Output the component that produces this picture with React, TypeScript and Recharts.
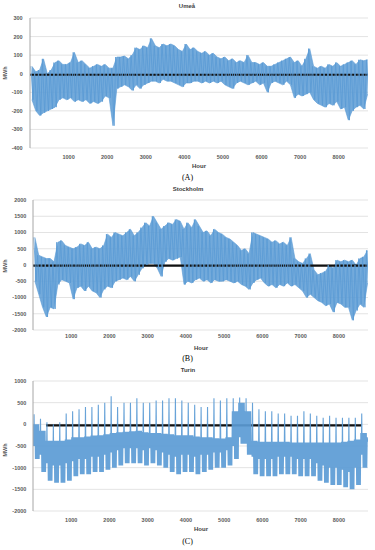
import React from 'react';
import { ComposedChart, Line, Area, XAxis, YAxis, CartesianGrid } from 'recharts';

const YEAR_HOURS = 8760;
const BIN_HOURS = 100;
const HOUR_TICKS = [1000, 2000, 3000, 4000, 5000, 6000, 7000, 8000];

// Umeå (100-hour bins: upper and lower envelope)
const UMEA_TICKS = [-400, -300, -200, -100, 0, 100, 200, 300];
const UMEA_HI = [
  40, 10, 20, 80, 0, 20, 60, 70, 50, 50,
  60, 115, 60, 70, 50, 30, 40, 50, 40, 50,
  30, 30, 90, 90, 95, 80, 100, 140, 130, 150,
  140, 190, 150, 140, 160, 150, 160, 150, 130, 120,
  160, 130, 140, 120, 110, 120, 100, 110, 90, 80,
  90, 70, 80, 60, 70, 60, 100, 60, 60, 50,
  60, 40, 40, 50, 60, 70, 80, 90, 60, 70,
  40, 80, 135, 40, 30, 40, 30, 50, 40, 60,
  40, 50, 60, 70, 50, 75, 70, 75,
];
const UMEA_LO = [
  -140, -200, -225, -210, -200, -190, -180, -140, -130, -140,
  -130, -150, -140, -150, -140, -160, -150, -160, -150, -120,
  -130, -280, -80, -70, -60, -70, -90, -60, -80, -60,
  -50, -40, -40, -50, -30, -40, -40, -50, -60, -70,
  -50, -50, -40, -40, -50, -40, -50, -40, -50, -40,
  -60, -70, -80, -50, -40, -50, -60, -50, -40, -60,
  -50, -100, -50, -40, -50, -60, -40, -60, -130, -110,
  -120, -110, -100, -140, -160, -170, -180, -160, -170, -150,
  -190, -180, -250, -200, -180, -170, -190, -110,
];
const UMEA_BASE = { value: -5, from: 0, to: 8760 };

// Stockholm (100-hour bins)
const STHLM_TICKS = [-2000, -1500, -1000, -500, 0, 500, 1000, 1500, 2000];
const STHLM_HI = [
  850, 300, 250, 200, 200, 100, 700, 750, 600, 550,
  500, 550, 650, 600, 700, 500, 550, 500, 600, 950,
  850, 1000, 950, 900, 1000, 1100, 900, 1000, 1150, 1300,
  1200, 1500, 1300, 1100, 1200, 1300, 1250, 1400, 1350, 1100,
  1300, 1150, 1400, 1200, 1000, 1050, 900, 1100, 1000, 950,
  850, 800, 700, 600, 450, 500, 350, 1000, 950, 900,
  850, 800, 700, 750, 650, 700, 600, 850, 200, 100,
  50, 200, 350, -150, -300, -250, -200, 0, -100, 150,
  100, 150, 100, 150, 0, 200, 250, 450,
];
const STHLM_LO = [
  -500, -900, -1300, -1600, -1300, -1350, -600, -450, -500, -550,
  -1050, -700, -650, -800, -650, -800, -850, -1000, -750, -650,
  -700, -500, -450, -400, -450, -350, -500, -300, -100, 0,
  50, 50, -100, -350, 100, 200, 150, 200, 250, -600,
  -500, -550, -450, -400, -500, -450, -550, -450, -500, -500,
  -450, -500, -550, -500, -600, -650, -750, -550, -450, -400,
  -550, -650, -600, -700, -600, -650, -550, -650, -600, -700,
  -800, -1000, -900, -1000, -1100, -1150, -1250, -1200, -1450, -1150,
  -1200, -1300, -1300, -1700, -1400, -1200, -1300, -550,
];
const STHLM_BASE = { value: -20, from: 0, to: 8740 };

// Turin (weekly: weekend spike peak, weekday band top, weekday bottom, weekend bottom)
const TURIN_TICKS = [-2000, -1500, -1000, -500, 0, 500, 1000];
const TURIN_PEAK = [
  230, 130, 50, 0, 50, 250, 300, 350, 400, 400,
  450, 500, 650, 400, 500, 500, 600, 500, 500, 550,
  550, 600, 600, 550, 500, 450, 400, 400, 600, 550,
  600, 600, 620, 600, 500, 350, 300, 300, 250, 250,
  200, 200, 300, 250, 200, 150, 200, 150, 150, 150,
  150, 250, 150,
];
const TURIN_TOP = [
  0, -150, -380, -380, -380, -350, -300, -300, -280, -260,
  -250, -230, -200, -180, -170, -160, -150, -180, -200, -200,
  -220, -230, -250, -250, -250, -280, -300, -300, -320, -330,
  -300, 300, 500, 300, -380, -400, -400, -400, -400, -400,
  -420, -420, -420, -420, -420, -420, -420, -420, -400, -380,
  -350, -200, -300,
];
const TURIN_BOTTOM = [
  -800, -1100, -1300, -1350, -1350, -1300, -1200, -1150, -1150, -1100,
  -1100, -1050, -1000, -950, -900, -900, -900, -950, -900, -950,
  -1000, -1100, -1150, -1100, -1100, -1150, -1100, -1050, -1000, -1000,
  -950, -800, -450, -700, -1150, -1200, -1200, -1200, -1150, -1150,
  -1150, -1200, -1200, -1200, -1300, -1350, -1400, -1400, -1450, -1500,
  -1400, -1000, -600,
];
const TURIN_WKND_LOW = [
  -500, -700, -900, -950, -950, -900, -850, -800, -800, -750,
  -750, -700, -650, -600, -550, -550, -550, -600, -550, -600,
  -650, -700, -750, -700, -700, -750, -700, -700, -650, -650,
  -600, -500, -300, -450, -750, -800, -800, -800, -750, -750,
  -750, -800, -800, -800, -900, -950, -1000, -1000, -1050, -1100,
  -1000, -700, -400,
];
const TURIN_BASE = { value: -25, from: 340, to: 8590 };

type Base = { value: number; from: number; to: number };
type Row = { hour: number; mwh?: number | null; range?: [number, number] | null; base?: number | null };

function withBase(rows: Row[], base: Base): Row[] {
  const all: Row[] = rows.map((r) => ({
    ...r,
    base: r.hour >= base.from && r.hour <= base.to ? base.value : null,
  }));
  all.push({ hour: base.from, base: base.value });
  all.push({ hour: base.to, base: base.value });
  all.sort((a, b) => a.hour - b.hour);
  return all;
}

function binRows(hi: number[], lo: number[], base: Base): Row[] {
  const rows: Row[] = [];
  hi.forEach((h, i) => {
    rows.push({ hour: i * BIN_HOURS + 20, mwh: h });
    rows.push({ hour: i * BIN_HOURS + 50, range: [lo[i], h] });
    rows.push({ hour: i * BIN_HOURS + 80, mwh: lo[i] });
  });
  return withBase(rows, base);
}

function dailyRows(peak: number[], top: number[], bottom: number[], wkndLow: number[], base: Base): Row[] {
  const rows: Row[] = [];
  const days = Math.floor(YEAR_HOURS / 24);
  for (let d = 0; d < days; d++) {
    const w = Math.floor(d / 7);
    const dow = d % 7;
    const hi = dow === 1 ? peak[w] : top[w];
    const lo = dow <= 1 ? wkndLow[w] : bottom[w];
    rows.push({ hour: d * 24 + 4, mwh: hi });
    rows.push({ hour: d * 24 + 16, mwh: lo });
  }
  return withBase(rows, base);
}

const umeaData = binRows(UMEA_HI, UMEA_LO, UMEA_BASE);
const sthlmData = binRows(STHLM_HI, STHLM_LO, STHLM_BASE);
const turinData = dailyRows(TURIN_PEAK, TURIN_TOP, TURIN_BOTTOM, TURIN_WKND_LOW, TURIN_BASE);

const FONT = '"Liberation Sans", Arial, sans-serif';
const BLUE = '#5b9bd5';
const tickStyle = { fontSize: 5.5, fill: '#595959', fontWeight: 700, fontFamily: FONT };

function Txt(props: { x: number; y: number; children: React.ReactNode; style?: React.CSSProperties; rotate?: boolean }) {
  return (
    <div
      style={{
        position: 'absolute',
        left: props.x,
        top: props.y,
        transform: `translate(-50%, -50%)${props.rotate ? ' rotate(-90deg)' : ''}`,
        whiteSpace: 'nowrap',
        lineHeight: 1,
        fontFamily: FONT,
        fontWeight: 700,
        color: '#595959',
        fontSize: 5.5,
        ...props.style,
      }}
    >
      {props.children}
    </div>
  );
}

function Panel(props: {
  top: number;
  height: number;
  marginTop: number;
  yWidth: number;
  ticks: number[];
  data: Row[];
  xGap: number;
  yGap: number;
  baseWidth: number;
  lineWidth: number;
  withArea: boolean;
}) {
  const { ticks } = props;
  return (
    <div style={{ position: 'absolute', left: 0, top: props.top }}>
      <ComposedChart
        width={375}
        height={props.height}
        data={props.data}
        margin={{ top: props.marginTop, right: 7, left: 0, bottom: 0 }}
      >
        <CartesianGrid vertical={false} stroke="#dcdcdc" strokeWidth={0.8} />
        <XAxis
          dataKey="hour"
          type="number"
          domain={[0, YEAR_HOURS]}
          ticks={HOUR_TICKS}
          interval={0}
          axisLine={false}
          tickLine={false}
          tickSize={0}
          tickMargin={props.xGap}
          height={15}
          tick={tickStyle}
          allowDataOverflow
        />
        <YAxis
          type="number"
          domain={[ticks[0], ticks[ticks.length - 1]]}
          ticks={ticks}
          interval={0}
          width={props.yWidth}
          axisLine={{ stroke: '#a6a6a6', strokeWidth: 1 }}
          tickLine={false}
          tickSize={0}
          tickMargin={props.yGap}
          tick={tickStyle}
          allowDataOverflow
        />
        <Line
          dataKey="base"
          stroke="#111111"
          strokeWidth={props.baseWidth}
          dot={false}
          activeDot={false}
          isAnimationActive={false}
          connectNulls={false}
        />
        {props.withArea && (
          <Area
            dataKey="range"
            type="linear"
            stroke={BLUE}
            strokeWidth={0.6}
            fill={BLUE}
            fillOpacity={0.85}
            dot={false}
            activeDot={false}
            isAnimationActive={false}
            connectNulls
          />
        )}
        <Line
          dataKey="mwh"
          stroke={BLUE}
          strokeWidth={props.lineWidth}
          strokeOpacity={0.92}
          dot={false}
          activeDot={false}
          isAnimationActive={false}
          connectNulls
        />
      </ComposedChart>
    </div>
  );
}

const captionStyle: React.CSSProperties = {
  fontFamily: '"Liberation Serif", "Times New Roman", serif',
  fontWeight: 400,
  color: '#000',
  fontSize: 8,
};
const titleStyle: React.CSSProperties = { fontSize: 6, color: '#404040' };
const hourStyle: React.CSSProperties = { fontSize: 6, color: '#404040' };

export default function App() {
  return (
    <div style={{ position: 'absolute', left: 0, top: 0, width: 375, height: 550, background: '#fff', overflow: 'hidden' }}>
      <Panel top={0} height={163} marginTop={18} yWidth={30} ticks={UMEA_TICKS} data={umeaData} xGap={7.5} yGap={7.3} baseWidth={2} lineWidth={0.9} withArea />
      <Panel top={180} height={165} marginTop={20} yWidth={33} ticks={STHLM_TICKS} data={sthlmData} xGap={4.3} yGap={6.6} baseWidth={2.3} lineWidth={0.9} withArea />
      <Panel top={360} height={166} marginTop={21} yWidth={33} ticks={TURIN_TICKS} data={turinData} xGap={6.6} yGap={6.6} baseWidth={2.3} lineWidth={1.1} withArea={false} />

      <Txt x={187} y={6} style={titleStyle}>Umeå</Txt>
      <Txt x={5.5} y={73} rotate>MWh</Txt>
      <Txt x={199} y={165.5} style={hourStyle}>Hour</Txt>
      <Txt x={187.5} y={177.5} style={captionStyle}>(A)</Txt>

      <Txt x={188} y={189} style={titleStyle}>Stockholm</Txt>
      <Txt x={5.5} y={266} rotate>MWh</Txt>
      <Txt x={201} y={347.5} style={hourStyle}>Hour</Txt>
      <Txt x={187.5} y={358.5} style={captionStyle}>(B)</Txt>

      <Txt x={188} y={370} style={titleStyle}>Turin</Txt>
      <Txt x={5.5} y={450} rotate>MWh</Txt>
      <Txt x={201} y={529} style={hourStyle}>Hour</Txt>
      <Txt x={187.5} y={541.5} style={captionStyle}>(C)</Txt>
    </div>
  );
}
